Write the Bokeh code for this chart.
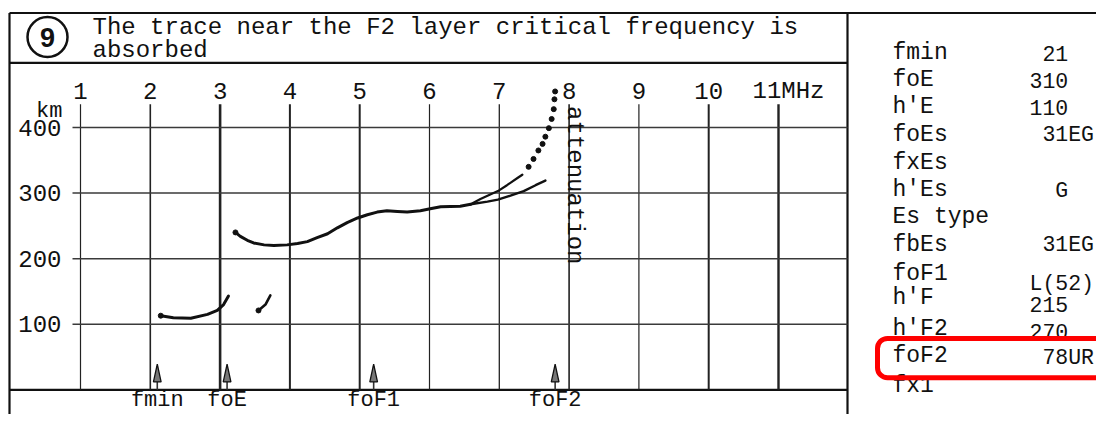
import numpy as np
from bokeh.plotting import figure
from bokeh.models import Range1d, ColumnDataSource, BoxAnnotation
from bokeh.embed import file_html
from bokeh.resources import INLINE
from bokeh.core.properties import value

# ---------------- data ----------------
freq_ticks = [1, 2, 3, 4, 5, 6, 7, 8, 9, 10, 11]
freq_labels = ["1", "2", "3", "4", "5", "6", "7", "8", "9", "10", "11MHz"]
height_ticks = [100, 200, 300, 400]
height_labels = ["100", "200", "300", "400"]

# E-layer trace (MHz, km)
e_f = [2.15, 2.33, 2.58, 2.82, 2.96, 3.05, 3.12]
e_h = [113, 110, 109, 115, 121, 130, 143]
# short trace segment
s_f = [3.55, 3.65, 3.72]
s_h = [121, 130, 144]
# F trace
f_f = [3.22, 3.29, 3.39, 3.48, 3.63, 3.77, 3.96, 4.11, 4.25, 4.39, 4.54, 4.68,
       4.82, 4.97, 5.11, 5.25, 5.39, 5.54, 5.68, 5.87, 6.01, 6.16, 6.44, 6.59]
f_h = [240, 234, 228, 224, 221, 220, 221, 223, 226, 232, 238, 247,
       255, 262, 267, 271, 273, 272, 271, 273, 276, 279, 280, 283]
# upper / lower branches near foF2
up_f = [6.59, 6.73, 6.87, 6.98, 7.11, 7.26, 7.33]
up_h = [283, 291, 298, 303, 312, 323, 328]
lo_f = [6.59, 6.83, 6.98, 7.16, 7.35, 7.52, 7.66]
lo_h = [283, 287, 290, 296, 303, 312, 319]
# dotted (absorbed) part
dot_f = [7.42, 7.49, 7.56, 7.62, 7.66, 7.71, 7.75, 7.78, 7.79, 7.80]
dot_h = [340, 352, 365, 375, 386, 399, 413, 428, 443, 455]

# scaled parameters marked with arrows
arrow_names = ["fmin", "foE", "foF1", "foF2"]
arrow_f = [2.1, 3.1, 5.2, 7.8]

# table on the right
param_names = ["fmin", "foE", "h'E", "foEs", "fxEs", "h'Es", "Es type",
               "fbEs", "foF1", "h'F", "h'F2", "foF2", "fx1"]
param_values = ["21", "310", "110", "31EG", "", "G", "",
                "31EG", "L(52)", "215", "270", "78UR", ""]

title_lines = ["The trace near the F2 layer critical frequency is", "absorbed"]
panel_number = "9"
side_note = "attenuation"

# ---------------- layout (reference pixels -> data) ----------------
W, H = 1096, 414
KY = 0.96                   # slight vertical squeeze so the bottom labels fit
X1PX, XPX = 80.0, 69.8      # 1 MHz at x=80, 69.8 px per MHz
Y0PX, YPX = 405.5, 0.683    # 0 km at y=405.5, 0.683 px per km


def fx(px):
    return 1 + (px - X1PX) / XPX


def hy(py):
    return (Y0PX - py) / YPX


FONT = value("Liberation Mono")
INK = "#111111"

p = figure(width=W, height=H,
           x_range=Range1d(fx(0), fx(W)),
           y_range=Range1d(hy(H / KY), hy(0)),
           x_axis_type=None, y_axis_type=None,
           toolbar_location=None, output_backend="svg",
           min_border=0, outline_line_color=None,
           background_fill_color="white", border_fill_color="white")

# ---- outer frame ----
fr_x0 = [fx(9), fx(9), fx(9), fx(847), fx(9)]
fr_x1 = [fx(W), fx(9), fx(847), fx(847), fx(847)]
fr_y0 = [hy(13), hy(13), hy(65), hy(13), 0]
fr_y1 = [hy(13), hy(440), hy(65), hy(440), 0]
p.segment(fr_x0, fr_y0, fr_x1, fr_y1, line_color=INK, line_width=2.2)

# ---- grid ----
GRID_TOP = hy(108)
v_widths = [1.2, 1.6, 2.6, 2.0, 2.0, 1.2, 1.3, 1.6, 1.2, 2.0, 2.4]
vsrc = ColumnDataSource(dict(x=freq_ticks, w=v_widths))
p.segment(x0="x", y0=0, x1="x", y1=GRID_TOP, source=vsrc,
          line_color="#222222", line_width="w")
p.segment(x0=fx(72), y0=height_ticks, x1=fx(847), y1=height_ticks,
          line_color="#3a3a3a", line_width=1.5)

# ---- tick labels ----
p.text(x=freq_ticks[:-1], y=hy(94), text=freq_labels[:-1], text_align="center",
       text_baseline="middle", text_font=FONT, text_font_size="24px", text_color=INK)
p.text(x=[fx(752)], y=[hy(95)], text=[freq_labels[-1]], text_align="left",
       text_baseline="middle", text_font=FONT, text_font_size="24px", text_color=INK)
p.text(x=fx(61), y=height_ticks, text=height_labels, text_align="right",
       text_baseline="middle", text_font=FONT, text_font_size="24px", text_color=INK)
p.text(x=[fx(62)], y=[hy(116)], text=["km"], text_align="right",
       text_baseline="middle", text_font=FONT, text_font_size="22px", text_color=INK)

# ---- traces ----
p.line(e_f, e_h, line_color=INK, line_width=3, line_join="round", line_cap="round")
p.line(s_f, s_h, line_color=INK, line_width=2.6, line_cap="round")
p.line(f_f, f_h, line_color=INK, line_width=3, line_join="round", line_cap="round")
p.line(up_f, up_h, line_color=INK, line_width=2.2, line_join="round", line_cap="round")
p.line(lo_f, lo_h, line_color=INK, line_width=2.4, line_join="round", line_cap="round")
p.scatter(dot_f, dot_h, size=5, color=INK)
p.scatter([e_f[0], s_f[0], f_f[0]], [e_h[0], s_h[0], f_h[0]], size=5, color=INK)

# ---- arrows ----
p.segment(x0=arrow_f, y0=0, x1=arrow_f, y1=36, line_color="#333333", line_width=1.6)
hw = 0.055
p.patches(xs=[[a - hw, a, a + hw] for a in arrow_f],
          ys=[[12, 39, 12] for _ in arrow_f],
          fill_color="#777777", line_color=INK, line_width=1.3)
p.text(x=arrow_f, y=hy(430), text=arrow_names, text_align="center",
       text_baseline="bottom", text_font=FONT, text_font_size="22px", text_color=INK)

# ---- attenuation note ----
p.text(x=[fx(574)], y=[hy(110)], text=[side_note], angle=-np.pi / 2,
       text_align="left", text_baseline="middle", text_font=FONT,
       text_font_size="24px", text_color=INK)

# ---- title ----
p.scatter([fx(47)], [hy(38)], marker="circle", size=40, fill_color=None,
          line_color=INK, line_width=2.5)
p.text(x=[fx(47)], y=[hy(39)], text=[panel_number], text_align="center",
       text_baseline="middle", text_font=value("Liberation Sans"),
       text_font_style="bold", text_font_size="27px", text_color=INK)
p.text(x=[fx(92), fx(92)], y=[hy(28), hy(52)], text=title_lines,
       text_align="left", text_baseline="middle", text_font=FONT,
       text_font_size="24px", text_color=INK)

# ---- parameter table ----
row_y = [55, 83, 111, 140, 169, 197, 225, 255, 285, 310, 342, 370, 402]
val_y = [55, 83, 111, 140, 169, 198, 225, 255, 295, 317, 345, 372, 402]
val_col = [1, 0, 0, 1, 0, 2, 0, 1, 0, 0, 0, 1, 0]
p.text(x=fx(892), y=[hy(v) for v in row_y], text=param_names, text_align="left",
       text_baseline="middle", text_font=FONT, text_font_size="23px", text_color=INK)
vals = [(v, y, c) for v, y, c in zip(param_values, val_y, val_col) if v]
p.text(x=[fx(1029 + 12.9 * c) for _, _, c in vals], y=[hy(y) for _, y, _ in vals],
       text=[v for v, _, _ in vals], text_align="left", text_baseline="middle",
       text_font=FONT, text_font_size="21.5px", text_color=INK)

# ---- red highlight box ----
p.add_layout(BoxAnnotation(left=fx(877), right=fx(1140), top=hy(352), bottom=hy(393),
                           fill_alpha=0, line_color="#ff0000", line_alpha=1.0,
                           line_width=5, border_radius=10))

open("out.html", "w").write(file_html(p, INLINE))
